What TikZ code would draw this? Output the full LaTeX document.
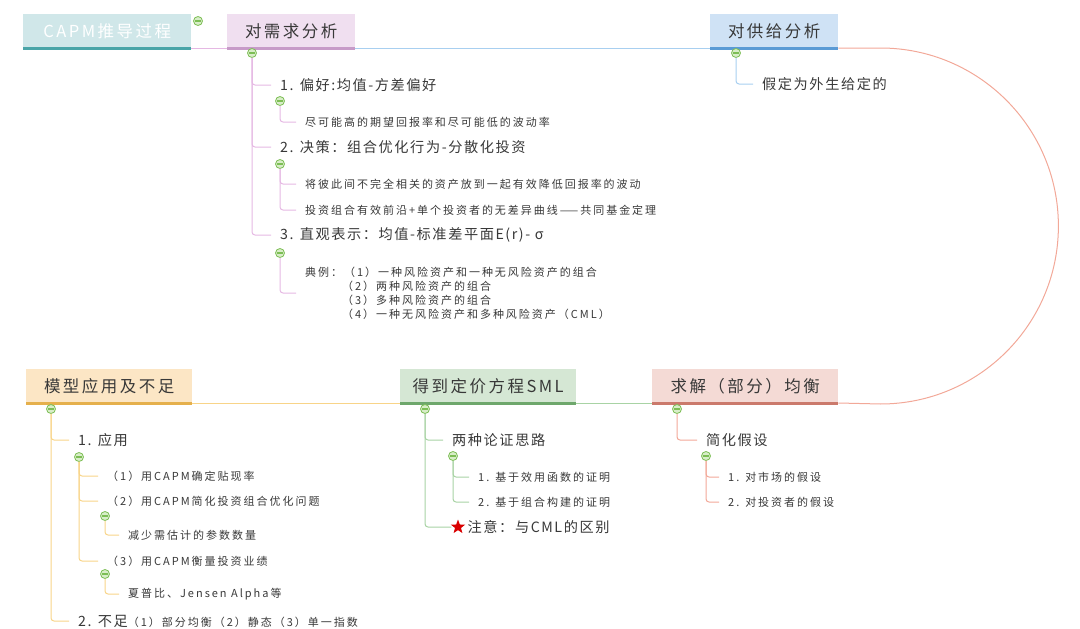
\documentclass[tikz,border=0pt]{standalone}
\usepackage{fontspec}
\setmainfont{Noto Sans CJK SC}
\newfontfamily\headfam[LetterSpace=15]{Noto Sans CJK SC}
\newfontfamily\topicfam[LetterSpace=11]{Noto Sans CJK SC}
\newfontfamily\leaffam[LetterSpace=18]{Noto Sans CJK SC}
\usepackage{xcolor}
\usepackage{tikz}
\usetikzlibrary{shapes.geometric, positioning}

\definecolor{txtgray}{HTML}{383838}
\definecolor{rootfill}{HTML}{D0E7E9}
\definecolor{rootbar}{HTML}{4AA5A8}
\definecolor{demfill}{HTML}{F0DFF0}
\definecolor{dembar}{HTML}{C79BC8}
\definecolor{demline}{HTML}{E5B8E3}
\definecolor{supfill}{HTML}{CFE2F5}
\definecolor{supbar}{HTML}{5B9BD5}
\definecolor{supline}{HTML}{A8CFF0}
\definecolor{eqfill}{HTML}{F4DAD5}
\definecolor{eqbar}{HTML}{CB7A6C}
\definecolor{eqline}{HTML}{F2A898}
\definecolor{smlfill}{HTML}{D5E7D4}
\definecolor{smlbar}{HTML}{6EA76C}
\definecolor{smlline}{HTML}{A8D3A4}
\definecolor{modfill}{HTML}{FCE6C5}
\definecolor{modbar}{HTML}{E5B04C}
\definecolor{modline}{HTML}{F8D488}
\definecolor{foldline}{HTML}{7DBE55}
\definecolor{foldfill}{HTML}{D8EDC8}

\newcommand{\headfont}{\headfam\fontsize{16.5}{18}\selectfont}
\newcommand{\topicfont}{\topicfam\fontsize{14.2}{16}\selectfont}
\newcommand{\leaffont}{\leaffam\fontsize{11}{14}\selectfont}

\tikzset{
  head/.style = {rectangle, inner sep=0pt, minimum height=34pt,
    anchor=south west, text=txtgray, font=\headfont},
  bar/.style = {line width=3pt},
  spine/.style = {line width=1pt},
  fold/.style = {circle, draw=foldline, fill=foldfill, line width=0.8pt,
    minimum size=9pt, inner sep=0pt,
    path picture={\draw[foldline, line width=1.2pt]
      ([xshift=-2.6pt]path picture bounding box.center) --
      ([xshift=2.6pt]path picture bounding box.center);}},
  topic/.style = {anchor=west, inner sep=0pt, text=txtgray, font=\topicfont},
  leaf/.style = {anchor=west, inner sep=0pt, text=txtgray, font=\leaffont, align=left},
  branch/.style = {line width=1pt, rounded corners=3pt, shorten >=9pt},
}

\begin{document}
\begin{tikzpicture}[x=1pt, y=1pt]
  \useasboundingbox (0,0) rectangle (1080,-629);

  % Headings
  \node[head, fill=rootfill, minimum width=168pt, text=white] (root) at (23,-48) {CAPM推导过程};
  \node[head, fill=demfill, minimum width=128pt] (dem) at (227,-48) {对需求分析};
  \node[head, fill=supfill, minimum width=128pt] (sup) at (710,-48) {对供给分析};
  \node[head, fill=eqfill, minimum width=186pt] (eq) at (652,-403) {求解（部分）均衡};
  \node[head, fill=smlfill, minimum width=176pt] (sml) at (400,-403) {得到定价方程SML};
  \node[head, fill=modfill, minimum width=166pt] (mod) at (26,-403) {模型应用及不足};

  \draw[bar, rootbar] (root.south west) -- (root.south east);
  \draw[bar, dembar] (dem.south west) -- (dem.south east);
  \draw[bar, supbar] (sup.south west) -- (sup.south east);
  \draw[bar, eqbar] (eq.south west) -- (eq.south east);
  \draw[bar, smlbar] (sml.south west) -- (sml.south east);
  \draw[bar, modbar] (mod.south west) -- (mod.south east);

  % Main spine
  \draw[spine, demline] (root.south east) -- (dem.south west);
  \draw[spine, supline] (dem.south east) -- (sup.south west);
  \draw[spine, eqline] (sup.south east) -- ++(42,0)
    arc[start angle=90, end angle=-90, radius=178] -- (eq.south east);
  \draw[spine, smlline] (eq.south west) -- (sml.south east);
  \draw[spine, modline] (sml.south west) -- (mod.south east);

  \node[fold] (froot) at (198,-21) {};

  % Demand
  \node[fold] (fdem) at (252,-53) {};
  \node[topic] (d1) at (280,-85) {1. 偏好:均值-方差偏好};
  \node[fold] (fd1) at (280,-101) {};
  \node[leaf] (d11) at (305,-122) {尽可能高的期望回报率和尽可能低的波动率};
  \node[topic] (d2) at (280,-147) {2. 决策：组合优化行为-分散化投资};
  \node[fold] (fd2) at (280,-164) {};
  \node[leaf] (d21) at (305,-184) {将彼此间不完全相关的资产放到一起有效降低回报率的波动};
  \node[leaf] (d22) at (305,-210) {投资组合有效前沿+单个投资者的无差异曲线——共同基金定理};
  \node[topic] (d3) at (280,-235) {3. 直观表示：均值-标准差平面E(r)- σ};
  \node[fold] (fd3) at (280,-253) {};
  \node[leaf] (d31) at (305,-293) {典例：（1）一种风险资产和一种无风险资产的组合\\
    \hphantom{典例：}（2）两种风险资产的组合\\
    \hphantom{典例：}（3）多种风险资产的组合\\
    \hphantom{典例：}（4）一种无风险资产和多种风险资产（CML）};

  \draw[branch, demline] (fdem) |- (d1.west);
  \draw[branch, demline] (fdem) |- (d2.west);
  \draw[branch, demline] (fdem) |- (d3.west);
  \draw[branch, demline] (fd1) |- (d11.west);
  \draw[branch, demline] (fd2) |- (d21.west);
  \draw[branch, demline] (fd2) |- (d22.west);
  \draw[branch, demline] (fd3) |- (d31.west);

  % Supply
  \node[fold] (fsup) at (736,-53) {};
  \node[topic] (s1) at (762,-84) {假定为外生给定的};
  \draw[branch, supline] (fsup) |- (s1.west);

  % Equilibrium
  \node[fold] (feq) at (677,-409) {};
  \node[topic] (e1) at (706,-440) {简化假设};
  \node[fold] (fe1) at (706,-456) {};
  \node[leaf] (e11) at (728,-477) {1. 对市场的假设};
  \node[leaf] (e12) at (728,-502) {2. 对投资者的假设};
  \draw[branch, eqline] (feq) |- (e1.west);
  \draw[branch, eqline] (fe1) |- (e11.west);
  \draw[branch, eqline] (fe1) |- (e12.west);

  % SML
  \node[fold] (fsml) at (425,-409) {};
  \node[topic] (p1) at (452,-440) {两种论证思路};
  \node[fold] (fp1) at (453,-456) {};
  \node[leaf] (p11) at (478,-477) {1. 基于效用函数的证明};
  \node[leaf] (p12) at (478,-502) {2. 基于组合构建的证明};
  \node[star, star points=5, star point ratio=2.4, fill=red!85!black,
    inner sep=0pt, minimum size=15pt] (warn) at (458,-527) {};
  \node[topic, right=5pt of warn] (p2) {注意：与CML的区别};
  \draw[branch, smlline] (fsml) |- (p1.west);
  \draw[branch, smlline, shorten >=2pt] (fsml) |- (warn.west);
  \draw[branch, smlline] (fp1) |- (p11.west);
  \draw[branch, smlline] (fp1) |- (p12.west);

  % Application
  \node[fold] (fmod) at (51,-409) {};
  \node[topic] (m1) at (78,-440) {1. 应用};
  \node[fold] (fm1) at (79,-457) {};
  \node[leaf] (m11) at (107,-476) {（1）用CAPM确定贴现率};
  \node[leaf] (m12) at (107,-501) {（2）用CAPM简化投资组合优化问题};
  \node[fold] (fm12) at (105,-516) {};
  \node[leaf] (m121) at (128,-535) {减少需估计的参数数量};
  \node[leaf] (m13) at (107,-561) {（3）用CAPM衡量投资业绩};
  \node[fold] (fm13) at (105,-574) {};
  \node[leaf] (m131) at (128,-594) {夏普比、Jensen Alpha等};
  \node[topic] (m2) at (78,-621) {2. 不足{\leaffont（1）部分均衡（2）静态（3）单一指数}};
  \draw[branch, modline] (fmod) |- (m1.west);
  \draw[branch, modline] (fmod) |- (m2.west);
  \draw[branch, modline] (fm1) |- (m11.west);
  \draw[branch, modline] (fm1) |- (m12.west);
  \draw[branch, modline] (fm1) |- (m13.west);
  \draw[branch, modline] (fm12) |- (m121.west);
  \draw[branch, modline] (fm13) |- (m131.west);

\end{tikzpicture}
\end{document}
